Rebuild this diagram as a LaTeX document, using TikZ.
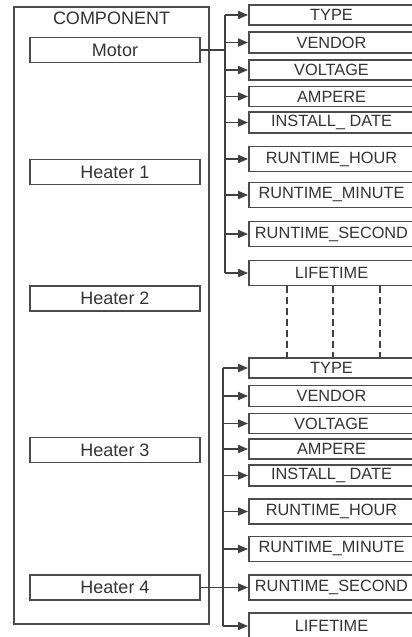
\documentclass[tikz,border=0pt]{standalone}
\usepackage{fontspec}
\setmainfont{Liberation Sans}
\usetikzlibrary{positioning, arrows.meta}

\begin{document}
\begin{tikzpicture}[
        x=1pt, y=-1pt,
        line/.style={draw=black!75, line width=1.7pt},
        arr/.style={line, -{Triangle[length=10pt, width=8pt]}},
        dashline/.style={draw=black!75, line width=1.5pt, dash pattern=on 7pt off 4pt},
        unit/.style={rectangle, draw=black!70, line width=1.8pt, minimum width=170pt, minimum height=25pt, inner sep=0pt, text=black!80, font=\fontsize{18}{20}\selectfont},
        field/.style={rectangle, draw=black!70, line width=1.8pt, minimum width=165pt, minimum height=20pt, inner sep=0pt, text=black!80, font=\fontsize{16.3}{18}\selectfont},
        tall/.style={field, minimum height=25pt}
    ]
        \clip (0,0) rectangle (412,637);
        \fill[white] (0,0) rectangle (412,637);

        % component list
        \node[draw=black!70, line width=1.9pt, minimum width=195pt, minimum height=617pt, inner sep=0pt] (comp) at (111.5,315.5) {};
        \node[below=6pt of comp.north, inner sep=0pt, text=black!80, font=\fontsize{18}{20}\selectfont] (title) {COMPONENT};
        \node[unit] (motor) at (115,50) {Motor};
        \node[unit] (heat1) at (115,172) {Heater 1};
        \node[unit] (heat2) at (115,298.5) {Heater 2};
        \node[unit] (heat3) at (115,450) {Heater 3};
        \node[unit] (heat4) at (115,587.5) {Heater 4};

        % attributes of the motor
        \node[field] (type1) at (331.5,15) {TYPE};
        \node[field, minimum height=21pt] (vendor1) at (331.5,42.5) {VENDOR};
        \node[field] (volt1) at (331.5,70) {VOLTAGE};
        \node[field] (amp1) at (331.5,96.5) {AMPERE};
        \node[field, minimum height=21pt] (inst1) at (331.5,122.5) {INSTALL\_ DATE};
        \node[tall] (hour1) at (331.5,159) {RUNTIME\_HOUR};
        \node[tall] (min1) at (331.5,195) {RUNTIME\_MINUTE};
        \node[tall] (sec1) at (331.5,234) {RUNTIME\_SECOND};
        \node[tall] (life1) at (331.5,273) {LIFETIME};

        % attributes of heater 4
        \node[field] (type2) at (331.5,368) {TYPE};
        \node[field, minimum height=21pt] (vendor2) at (331.5,396) {VENDOR};
        \node[field] (volt2) at (331.5,423.5) {VOLTAGE};
        \node[field] (amp2) at (331.5,449) {AMPERE};
        \node[field, minimum height=21pt] (inst2) at (331.5,475.5) {INSTALL\_ DATE};
        \node[tall] (hour2) at (331.5,511.5) {RUNTIME\_HOUR};
        \node[tall] (min2) at (331.5,549) {RUNTIME\_MINUTE};
        \node[tall] (sec2) at (331.5,587.5) {RUNTIME\_SECOND};
        \node[tall, minimum height=26pt] (life2) at (331.5,626) {LIFETIME};

        \coordinate (bus1) at (225,0);
        \coordinate (bus2) at (223,0);

        % motor bus
        \draw[line] (motor.east) -- (motor.east -| bus1);
        \draw[line] (type1.west -| bus1) -- (life1.west -| bus1);
        \draw[arr] (type1.west -| bus1) -- (type1.west);
        \draw[arr] (vendor1.west -| bus1) -- (vendor1.west);
        \draw[arr] (volt1.west -| bus1) -- (volt1.west);
        \draw[arr] (amp1.west -| bus1) -- (amp1.west);
        \draw[arr] (inst1.west -| bus1) -- (inst1.west);
        \draw[arr] (hour1.west -| bus1) -- (hour1.west);
        \draw[arr] (min1.west -| bus1) -- (min1.west);
        \draw[arr] (sec1.west -| bus1) -- (sec1.west);
        \draw[arr] (life1.west -| bus1) -- (life1.west);

        % gap between the two lists
        \draw[dashline] ([xshift=-44.5pt]life1.south) -- ([xshift=-44.5pt]type2.north);
        \draw[dashline] ([xshift=1.5pt]life1.south) -- ([xshift=1.5pt]type2.north);
        \draw[dashline] ([xshift=48.5pt]life1.south) -- ([xshift=48.5pt]type2.north);

        % heater 4 bus
        \draw[line] (type2.west -| bus2) -- (life2.west -| bus2);
        \draw[arr] (type2.west -| bus2) -- (type2.west);
        \draw[arr] (vendor2.west -| bus2) -- (vendor2.west);
        \draw[arr] (volt2.west -| bus2) -- (volt2.west);
        \draw[arr] (amp2.west -| bus2) -- (amp2.west);
        \draw[arr] (inst2.west -| bus2) -- (inst2.west);
        \draw[arr] (hour2.west -| bus2) -- (hour2.west);
        \draw[arr] (min2.west -| bus2) -- (min2.west);
        \draw[arr] (heat4.east) -- (sec2.west);
        \draw[arr] (life2.west -| bus2) -- (life2.west);
    \end{tikzpicture}
\end{document}
